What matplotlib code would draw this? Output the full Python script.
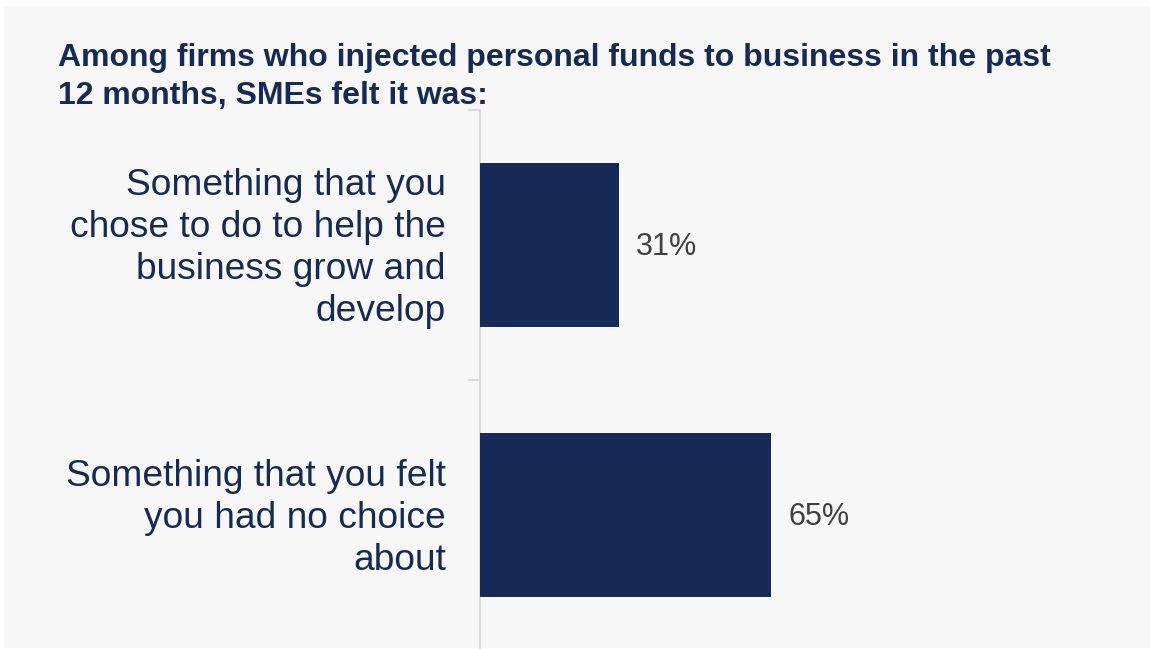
import matplotlib
matplotlib.use("Agg")
import matplotlib.pyplot as plt
from matplotlib.patches import Rectangle
import matplotlib.transforms as mtransforms

# Chart data
categories = [
    "Something that you\nchose to do to help the\nbusiness grow and\ndevelop",
    "Something that you felt\nyou had no choice\nabout",
]
values = [31, 65]
title = ("Among firms who injected personal funds to business in the past\n"
         "12 months, SMEs felt it was:")

NAVY = "#172a56"
GREY_TEXT = "#404040"
AXIS = "#d9d9d9"
PANEL = "#f7f7f7"

plt.rcParams["font.family"] = ["Liberation Sans", "DejaVu Sans"]

W, H = 1150, 649
fig = plt.figure(figsize=(W / 100, H / 100), dpi=100, facecolor="white")

# light grey panel behind everything
fig.patches.append(Rectangle((4 / W, 1 - 648 / H), 1 - 4 / W, (648 - 6) / H,
                             transform=fig.transFigure, facecolor=PANEL,
                             edgecolor="none", zorder=-1))

ax = fig.add_axes([480 / W, 1 - 650 / H, (W - 480) / W, (650 - 110) / H])
ax.set_facecolor("none")
ax.set_zorder(2)

y = range(len(categories))
ax.barh(y, values, height=0.607, color=NAVY, zorder=3)
ax.set_ylim(1.5, -0.5)
ax.set_xlim(0, 149.4)

# value labels to the right of each bar
for i, v in enumerate(values):
    ax.annotate(f"{v}%", xy=(v, i), xytext=(12.2, -1.5), textcoords="offset points",
                va="center", ha="left", fontsize=22, color=GREY_TEXT)

# category labels, right-aligned left of the axis (nudged down a few px)
lbl_tr = mtransforms.blended_transform_factory(ax.transAxes, ax.transData)
lbl_tr = lbl_tr + mtransforms.ScaledTranslation(0, -3.5 / 100, fig.dpi_scale_trans)
for i, c in enumerate(categories):
    ax.text(-34 / 670, i, c, transform=lbl_tr, ha="right", va="center",
            fontsize=26.7, color=NAVY, linespacing=1.27, clip_on=False)

# axis: only the left spine with ticks between categories
for s in ["top", "right", "bottom"]:
    ax.spines[s].set_visible(False)
ax.spines["left"].set_color(AXIS)
ax.spines["left"].set_linewidth(1.3)
ax.set_xticks([])
ax.set_yticks([-0.5, 0.5, 1.5])
ax.set_yticklabels([])
ax.tick_params(axis="y", length=8.6, width=1.3, color=AXIS)

fig.text(58 / W, 1 - 43 / H, title, ha="left", va="top", fontsize=23,
         fontweight="bold", color=NAVY, linespacing=1.34)

fig.savefig("out.png", dpi=100, facecolor="white")
